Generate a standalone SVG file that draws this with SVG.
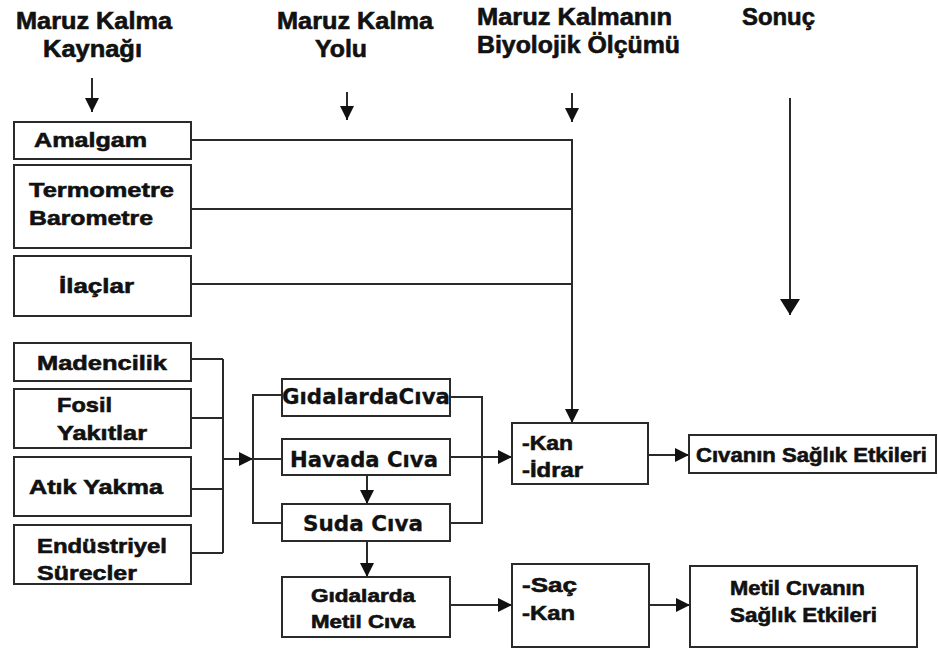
<svg xmlns="http://www.w3.org/2000/svg" width="938" height="648" viewBox="0 0 938 648">
<defs>
<marker id="ah" viewBox="0 0 14 14" refX="14" refY="7" markerWidth="14" markerHeight="14" markerUnits="userSpaceOnUse" orient="auto">
<path d="M0,0 L14,7 L0,14 z" fill="#111"/>
</marker>
<marker id="ahb" viewBox="0 0 16 20" refX="16" refY="10" markerWidth="16" markerHeight="20" markerUnits="userSpaceOnUse" orient="auto">
<path d="M0,0 L16,10 L0,20 z" fill="#111"/>
</marker>
</defs>
<style>
.bx{fill:#fff;stroke:#2a2a2a;stroke-width:2}
.ln{fill:none;stroke:#2a2a2a;stroke-width:2}
.ar{fill:none;stroke:#2a2a2a;stroke-width:2;marker-end:url(#ah)}
.t{font-family:"Liberation Sans",Arial,sans-serif;font-weight:bold;fill:#111;stroke:#111;stroke-width:0.6}
.h{font-size:23px}
.s{font-size:21px}
.d{font-family:"DejaVu Sans",Verdana,sans-serif;font-weight:bold;font-size:21px;fill:#111;stroke:#111;stroke-width:0.3}
</style>
<rect width="938" height="648" fill="#fff"/>

<g id="headers">
<text class="t h" x="16" y="29" textLength="156" lengthAdjust="spacingAndGlyphs">Maruz Kalma</text>
<text class="t h" x="43" y="57" textLength="99" lengthAdjust="spacingAndGlyphs">Kaynağı</text>
<text class="t h" x="277" y="29" textLength="156" lengthAdjust="spacingAndGlyphs">Maruz Kalma</text>
<text class="t h" x="315" y="57" textLength="52" lengthAdjust="spacingAndGlyphs">Yolu</text>
<text class="t h" x="477" y="25" textLength="195" lengthAdjust="spacingAndGlyphs">Maruz Kalmanın</text>
<text class="t h" x="477" y="53" textLength="203" lengthAdjust="spacingAndGlyphs">Biyolojik Ölçümü</text>
<text class="t h" x="742" y="25" textLength="73" lengthAdjust="spacingAndGlyphs">Sonuç</text>
</g>

<g id="connectors">
<path class="ar" d="M92,78 V112"/>
<path class="ar" d="M347,92 V120"/>
<path class="ar" d="M572,93 V122"/>
<path class="ln" d="M790,98 V315" style="marker-end:url(#ahb)"/>
<path class="ln" d="M191,140 H572 M191,209 H572 M191,284 H572"/>
<path class="ar" d="M572,139 V423"/>
<path class="ln" d="M191,359 H223 M191,418 H223 M191,489 H223 M191,553 H223 M223,359 V553"/>
<path class="ar" d="M223,459 H253"/>
<path class="ln" d="M253,459 H282"/>
<path class="ln" d="M282,395 H253 V523 H282"/>
<path class="ln" d="M450,397 H482 V523 H450"/>
<path class="ar" d="M450,457 H512"/>
<path class="ar" d="M367,475 V504"/>
<path class="ar" d="M367,541 V577"/>
<path class="ar" d="M648,455 H689"/>
<path class="ar" d="M450,605 H512"/>
<path class="ar" d="M649,605 H690"/>
</g>

<g id="amalgam"><rect class="bx" x="14" y="122" width="177" height="37"/>
<text class="t s" x="34" y="147" textLength="113" lengthAdjust="spacingAndGlyphs">Amalgam</text></g>
<g id="termometre"><rect class="bx" x="14" y="165" width="177" height="83"/>
<text class="t s" x="29" y="197" textLength="145" lengthAdjust="spacingAndGlyphs">Termometre</text>
<text class="t s" x="29" y="225" textLength="124" lengthAdjust="spacingAndGlyphs">Barometre</text></g>
<g id="ilaclar"><rect class="bx" x="14" y="256" width="177" height="60"/>
<text class="t s" x="59" y="293" textLength="75" lengthAdjust="spacingAndGlyphs">İlaçlar</text></g>

<g id="madencilik"><rect class="bx" x="14" y="343" width="177" height="38"/>
<text class="t s" x="37" y="370" textLength="130" lengthAdjust="spacingAndGlyphs">Madencilik</text></g>
<g id="fosil"><rect class="bx" x="14" y="389" width="177" height="59"/>
<text class="t s" x="57" y="412" textLength="55" lengthAdjust="spacingAndGlyphs">Fosil</text>
<text class="t s" x="57" y="440" textLength="90" lengthAdjust="spacingAndGlyphs">Yakıtlar</text></g>
<g id="atik"><rect class="bx" x="14" y="457" width="177" height="59"/>
<text class="t s" x="29" y="494" textLength="134" lengthAdjust="spacingAndGlyphs">Atık Yakma</text></g>
<g id="endustriyel"><rect class="bx" x="14" y="525" width="177" height="59"/>
<text class="t s" x="37" y="553" textLength="130" lengthAdjust="spacingAndGlyphs">Endüstriyel</text>
<text class="t s" x="37" y="580" textLength="100" lengthAdjust="spacingAndGlyphs">Sürecler</text></g>

<g id="gidalarda"><rect class="bx" x="282" y="379" width="168" height="37"/>
<text class="d" x="282" y="404" textLength="168" lengthAdjust="spacingAndGlyphs">GıdalardaCıva</text></g>
<g id="havada"><rect class="bx" x="282" y="439" width="168" height="36"/>
<text class="d" x="290" y="467" textLength="148" lengthAdjust="spacingAndGlyphs">Havada Cıva</text></g>
<g id="suda"><rect class="bx" x="282" y="504" width="168" height="37"/>
<text class="d" x="303" y="531" textLength="120" lengthAdjust="spacingAndGlyphs">Suda Cıva</text></g>

<g id="kan-idrar"><rect class="bx" x="512" y="423" width="136" height="61"/>
<text class="t s" x="522" y="450" textLength="51" lengthAdjust="spacingAndGlyphs">-Kan</text>
<text class="t s" x="522" y="477" textLength="61" lengthAdjust="spacingAndGlyphs">-İdrar</text></g>
<g id="civanin"><rect class="bx" x="689" y="435" width="247" height="38"/>
<text class="t s" x="696" y="462" textLength="231" lengthAdjust="spacingAndGlyphs">Cıvanın Sağlık Etkileri</text></g>

<g id="metil-civa"><rect class="bx" x="282" y="577" width="168" height="60"/>
<text class="t" style="font-size:18px" x="311" y="602" textLength="104" lengthAdjust="spacingAndGlyphs">Gıdalarda</text>
<text class="t" style="font-size:18px" x="311" y="628" textLength="104" lengthAdjust="spacingAndGlyphs">Metil Cıva</text></g>
<g id="sac-kan"><rect class="bx" x="512" y="564" width="137" height="83"/>
<text class="t s" x="522" y="592" textLength="55" lengthAdjust="spacingAndGlyphs">-Saç</text>
<text class="t s" x="522" y="620" textLength="53" lengthAdjust="spacingAndGlyphs">-Kan</text></g>
<g id="metil-civanin"><rect class="bx" x="690" y="566" width="227" height="81"/>
<text class="t" style="font-size:20px" x="730" y="595" textLength="135" lengthAdjust="spacingAndGlyphs">Metil Cıvanın</text>
<text class="t" style="font-size:20px" x="730" y="622" textLength="147" lengthAdjust="spacingAndGlyphs">Sağlık Etkileri</text></g>
</svg>
